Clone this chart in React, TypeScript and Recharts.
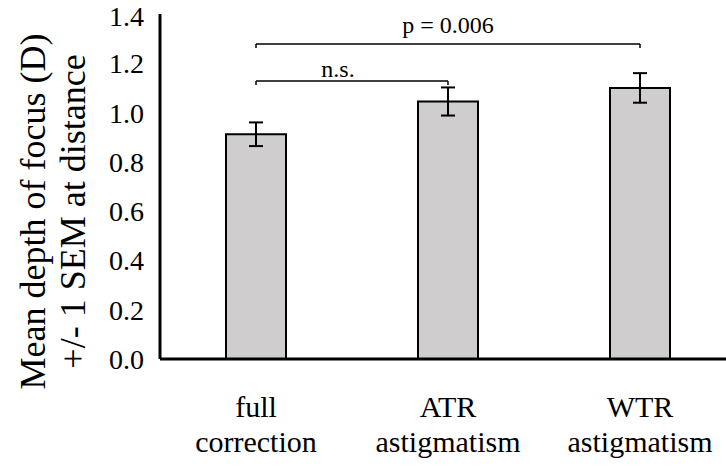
import React from 'react';
import { BarChart, Bar, XAxis, YAxis, ErrorBar, ReferenceLine } from 'recharts';

const categories = ['full correction', 'ATR astigmatism', 'WTR astigmatism'];
const tickTop = ['full', 'ATR', 'WTR'];
const tickBottom = ['correction', 'astigmatism', 'astigmatism'];
const depthOfFocus = [0.912, 1.045, 1.1];
const sem = [0.048, 0.057, 0.06];
const yTicks = [0, 0.2, 0.4, 0.6, 0.8, 1.0, 1.2, 1.4];

// significance brackets (y in dioptres)
const wideBracketY = 1.278;
const narrowBracketY = 1.128;
const bracketDrop = 0.016;

const FONT = '"Liberation Serif", serif';

const chartData = categories.map((name, i) => ({
  name,
  value: depthOfFocus[i],
  sem: sem[i],
}));

const CategoryTick = ({ x, y, index }: any) => (
  <g>
    <text x={x} y={y + 58} textAnchor="middle" fontFamily={FONT} fontSize={30} fill="#000">
      {tickTop[index]}
    </text>
    <text x={x} y={y + 93} textAnchor="middle" fontFamily={FONT} fontSize={30} fill="#000">
      {tickBottom[index]}
    </text>
  </g>
);

const AxisTitle = ({ viewBox }: any) => {
  const cy = viewBox.y + viewBox.height / 2 + 25;
  return (
    <g fontFamily={FONT} fontSize={36} fill="#000">
      <text x={45} y={cy} transform={`rotate(-90, 45, ${cy})`} textAnchor="middle">
        Mean depth of focus (D)
      </text>
      <text x={85} y={cy} transform={`rotate(-90, 85, ${cy})`} textAnchor="middle">
        +/- 1 SEM at distance
      </text>
    </g>
  );
};

const bracketStyle = { stroke: '#000', strokeWidth: 1.5 };
const annotation = { fontSize: 24, fill: '#000', fontFamily: FONT };

const App: React.FC = () => {
  return (
    <div
      style={{
        position: 'absolute',
        left: 0,
        top: 0,
        width: 726,
        height: 473,
        overflow: 'hidden',
        background: '#fff',
        fontFamily: FONT,
      }}
    >
      <BarChart width={750} height={473} data={chartData} margin={{ top: 14, right: 14, bottom: 0, left: 0 }}>
        <XAxis
          dataKey="name"
          height={114}
          tickLine={false}
          tickSize={0}
          tickMargin={0}
          axisLine={{ stroke: '#000', strokeWidth: 3 }}
          tick={<CategoryTick />}
          interval={0}
        />
        <YAxis
          width={160}
          domain={[0, 1.4]}
          ticks={yTicks}
          tickFormatter={(v: number) => v.toFixed(1)}
          tickLine={false}
          tickSize={0}
          tickMargin={16}
          axisLine={{ stroke: '#000', strokeWidth: 3 }}
          tick={{ fontSize: 28, fill: '#000', fontFamily: FONT }}
          label={<AxisTitle />}
        />
        <Bar dataKey="value" fill="#cfcdce" stroke="#000" strokeWidth={2} barSize={60} isAnimationActive={false}>
          <ErrorBar dataKey="sem" width={7} stroke="#000" strokeWidth={2} direction="y" isAnimationActive={false} />
        </Bar>

        {/* p = 0.006 : full correction vs WTR */}
        <ReferenceLine
          segment={[{ x: categories[0], y: wideBracketY }, { x: categories[2], y: wideBracketY }]}
          {...bracketStyle}
          label={{ value: 'p = 0.006', position: 'top', offset: 11, ...annotation }}
        />
        <ReferenceLine
          segment={[{ x: categories[0], y: wideBracketY }, { x: categories[0], y: wideBracketY - bracketDrop }]}
          {...bracketStyle}
        />
        <ReferenceLine
          segment={[{ x: categories[2], y: wideBracketY }, { x: categories[2], y: wideBracketY - bracketDrop }]}
          {...bracketStyle}
        />

        {/* n.s. : full correction vs ATR */}
        <ReferenceLine
          segment={[{ x: categories[0], y: narrowBracketY }, { x: categories[1], y: narrowBracketY }]}
          {...bracketStyle}
          label={{ value: 'n.s.', position: 'top', offset: 4, dx: -14, ...annotation }}
        />
        <ReferenceLine
          segment={[{ x: categories[0], y: narrowBracketY }, { x: categories[0], y: narrowBracketY - bracketDrop }]}
          {...bracketStyle}
        />
        <ReferenceLine
          segment={[{ x: categories[1], y: narrowBracketY }, { x: categories[1], y: narrowBracketY - bracketDrop }]}
          {...bracketStyle}
        />
      </BarChart>
    </div>
  );
};

export default App;
